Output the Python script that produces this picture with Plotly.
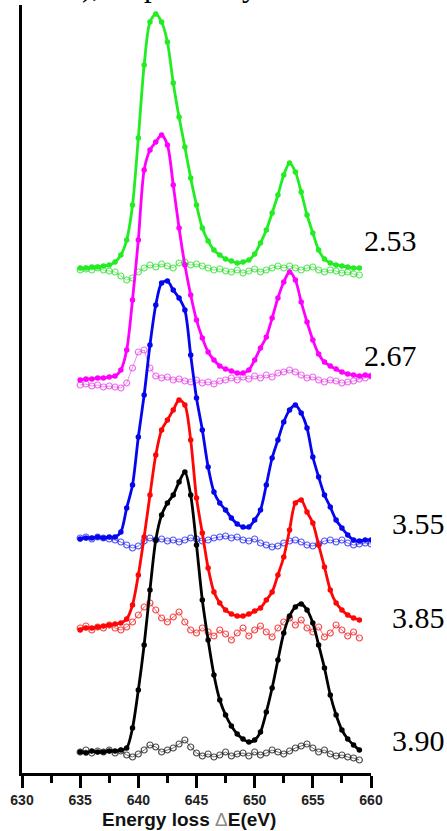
import plotly.graph_objects as go

# Energy loss axis (eV), 0.5 eV sampling
energy = [635.0 + 0.5 * i for i in range(51)]

# Intensities (a.u., vertically offset as in the figure)
green_fit = [505, 505, 506, 506, 507, 508, 511, 518, 533, 568,
             635, 708, 751, 759, 751, 731, 690, 656, 626, 595,
             568, 545, 532, 523, 518, 514, 512, 510, 511, 513,
             519, 530, 543, 560, 578, 598, 610, 601, 581, 558,
             540, 523, 514, 510, 508, 507, 506, 505, 505, None, None]
green_res = [503, 504, 503, 505, 503, 502, 501, 497, 493, 495,
             501, 505, 508, 506, 509, 507, 505, 510, 511, 508,
             509, 507, 505, 503, 504, 502, 501, 503, 500, 502,
             504, 501, 503, 505, 507, 505, 507, 505, 503, 505,
             506, 503, 501, 503, 502, 500, 501, 499, 498, None, None]

magenta_fit = [393, 394, 394, 395, 395, 396, 397, 403, 423, 473,
               533, 603, 623, 631, 638, 628, 588, 545, 508, 478,
               453, 435, 421, 413, 407, 404, 402, 400, 400, 403,
               413, 425, 436, 455, 475, 491, 501, 493, 471, 451,
               433, 419, 411, 407, 404, 401, 399, 398, 397, 398, 397]
magenta_res = [388, 389, 387, 388, 386, 387, 386, 385, 390, 405,
               421, 423, 405, 397, 395, 396, 393, 394, 392, 391,
               393, 390, 391, 389, 392, 393, 395, 393, 396, 394,
               397, 395, 398, 396, 400, 401, 403, 401, 398, 395,
               396, 393, 391, 393, 392, 390, 391, 392, 394, 395, 397]

blue_fit = [234, 235, 235, 236, 235, 236, 236, 241, 265, 288,
            336, 378, 428, 468, 490, 492, 483, 475, 463, 418,
            375, 343, 306, 281, 270, 263, 255, 249, 246, 246,
            253, 263, 288, 315, 333, 351, 363, 368, 360, 345,
            316, 296, 278, 266, 253, 245, 238, 233, 232, 233, 233]
blue_res = [235, 236, 234, 236, 235, 234, 233, 231, 228, 225,
            227, 232, 235, 233, 234, 232, 233, 231, 233, 235,
            234, 232, 233, 235, 236, 237, 235, 236, 233, 232,
            234, 230, 228, 226, 227, 230, 232, 233, 231, 228,
            227, 229, 232, 233, 231, 233, 230, 228, 229, 230, 229]

red_fit = [143, 145, 145, 146, 147, 148, 149, 150, 154, 168,
           198, 236, 278, 318, 343, 353, 363, 373, 368, 333,
           275, 240, 205, 181, 170, 163, 159, 157, 157, 159,
           162, 165, 173, 181, 198, 216, 243, 270, 273, 261,
           250, 228, 206, 183, 170, 163, 158, 155, 153, None, None]
red_res = [145, 147, 143, 146, 145, 148, 145, 143, 146, 151,
           158, 166, 170, 163, 155, 151, 156, 161, 151, 143,
           140, 145, 141, 137, 143, 139, 133, 140, 145, 137,
           143, 147, 141, 136, 145, 151, 155, 148, 153, 145,
           141, 146, 136, 140, 148, 143, 137, 141, 135, None, None]

black_fit = [21, 20, 22, 21, 21, 22, 22, 23, 25, 45,
             83, 128, 183, 233, 258, 270, 278, 291, 301, 278,
             228, 173, 133, 98, 73, 58, 47, 39, 34, 31,
             33, 41, 61, 85, 113, 140, 157, 166, 169, 163,
             150, 128, 105, 78, 58, 43, 34, 28, 23, None, None]
black_res = [21, 23, 20, 22, 21, 23, 20, 22, 18, 16,
             19, 23, 28, 26, 21, 23, 25, 29, 33, 26,
             20, 17, 19, 16, 18, 21, 17, 19, 20, 17,
             21, 18, 20, 23, 21, 19, 22, 25, 27, 29,
             25, 21, 23, 19, 17, 18, 16, 15, 13, None, None]

labels = ["2.53", "2.67", "3.55", "3.85", "3.90"]
label_xpaper = [0.975, 0.975, 1.055, 1.055, 1.055]
label_y = [533, 418, 250, 156, 33]

series = [
    (green_fit, green_res, "#22ec22", "rgba(40,220,40,0.75)"),
    (magenta_fit, magenta_res, "#ff00ff", "rgba(230,60,230,0.75)"),
    (blue_fit, blue_res, "#0505f0", "rgba(30,30,240,0.75)"),
    (red_fit, red_res, "#ff0505", "rgba(240,30,30,0.8)"),
    (black_fit, black_res, "#000000", "rgba(30,30,30,0.8)"),
]

fig = go.Figure()
for fit, res, col, rcol in series:
    fig.add_trace(go.Scatter(
        x=energy, y=res, mode="lines+markers",
        line=dict(color=rcol, width=0.8),
        marker=dict(symbol="circle-open", size=6, color=rcol, line=dict(width=1.2)),
        showlegend=False, hoverinfo="skip"))
    fig.add_trace(go.Scatter(
        x=energy, y=fit, mode="lines+markers",
        line=dict(color=col, width=2.8, shape="spline", smoothing=0.8),
        marker=dict(symbol="circle", size=5.5, color=col),
        showlegend=False, hoverinfo="skip"))

for t, lx, ly in zip(labels, label_xpaper, label_y):
    fig.add_annotation(x=lx, y=ly, xref="paper", yref="y", text=t, showarrow=False,
                       xanchor="left", yanchor="middle",
                       font=dict(family="Liberation Serif", size=30, color="black"))

# axis title
fig.add_annotation(x=0.478, y=0, xref="paper", yref="paper", yshift=-46,
                   text="Energy loss <span style='color:#8a8a8a;font-weight:normal'>Δ</span>E(eV)",
                   showarrow=False, xanchor="center", yanchor="middle",
                   font=dict(family="Liberation Sans", size=19, color="#111", weight="bold"))

# partially visible caption line above the figure
fig.add_annotation(x=0.165, y=1, xref="paper", yref="paper", yshift=20,
                   text="), respectively", showarrow=False, xanchor="left", yanchor="middle",
                   font=dict(family="Liberation Serif", size=31, color="black"))

fig.update_layout(
    width=447, height=831,
    margin=dict(l=22, r=76, t=5, b=58),
    paper_bgcolor="white", plot_bgcolor="white",
    xaxis=dict(range=[630, 660], tick0=630, dtick=5, showgrid=False, zeroline=False,
               showline=True, linecolor="black", linewidth=2.5,
               ticks="outside", ticklen=12, tickwidth=2.5, tickcolor="black",
               tickfont=dict(family="Liberation Sans", size=14, color="#222", weight="bold"),
               minor=dict(dtick=2.5, tick0=630, ticks="outside", ticklen=7, tickwidth=2.5,
                          tickcolor="black", showgrid=False)),
    yaxis=dict(range=[0, 768], showgrid=False, zeroline=False, showticklabels=False,
               ticks="", showline=True, linecolor="black", linewidth=2.5),
)

fig.write_html("out.html", config={"displayModeBar": False},
               post_script="document.body.style.margin='0px';document.body.style.overflow='hidden';")
